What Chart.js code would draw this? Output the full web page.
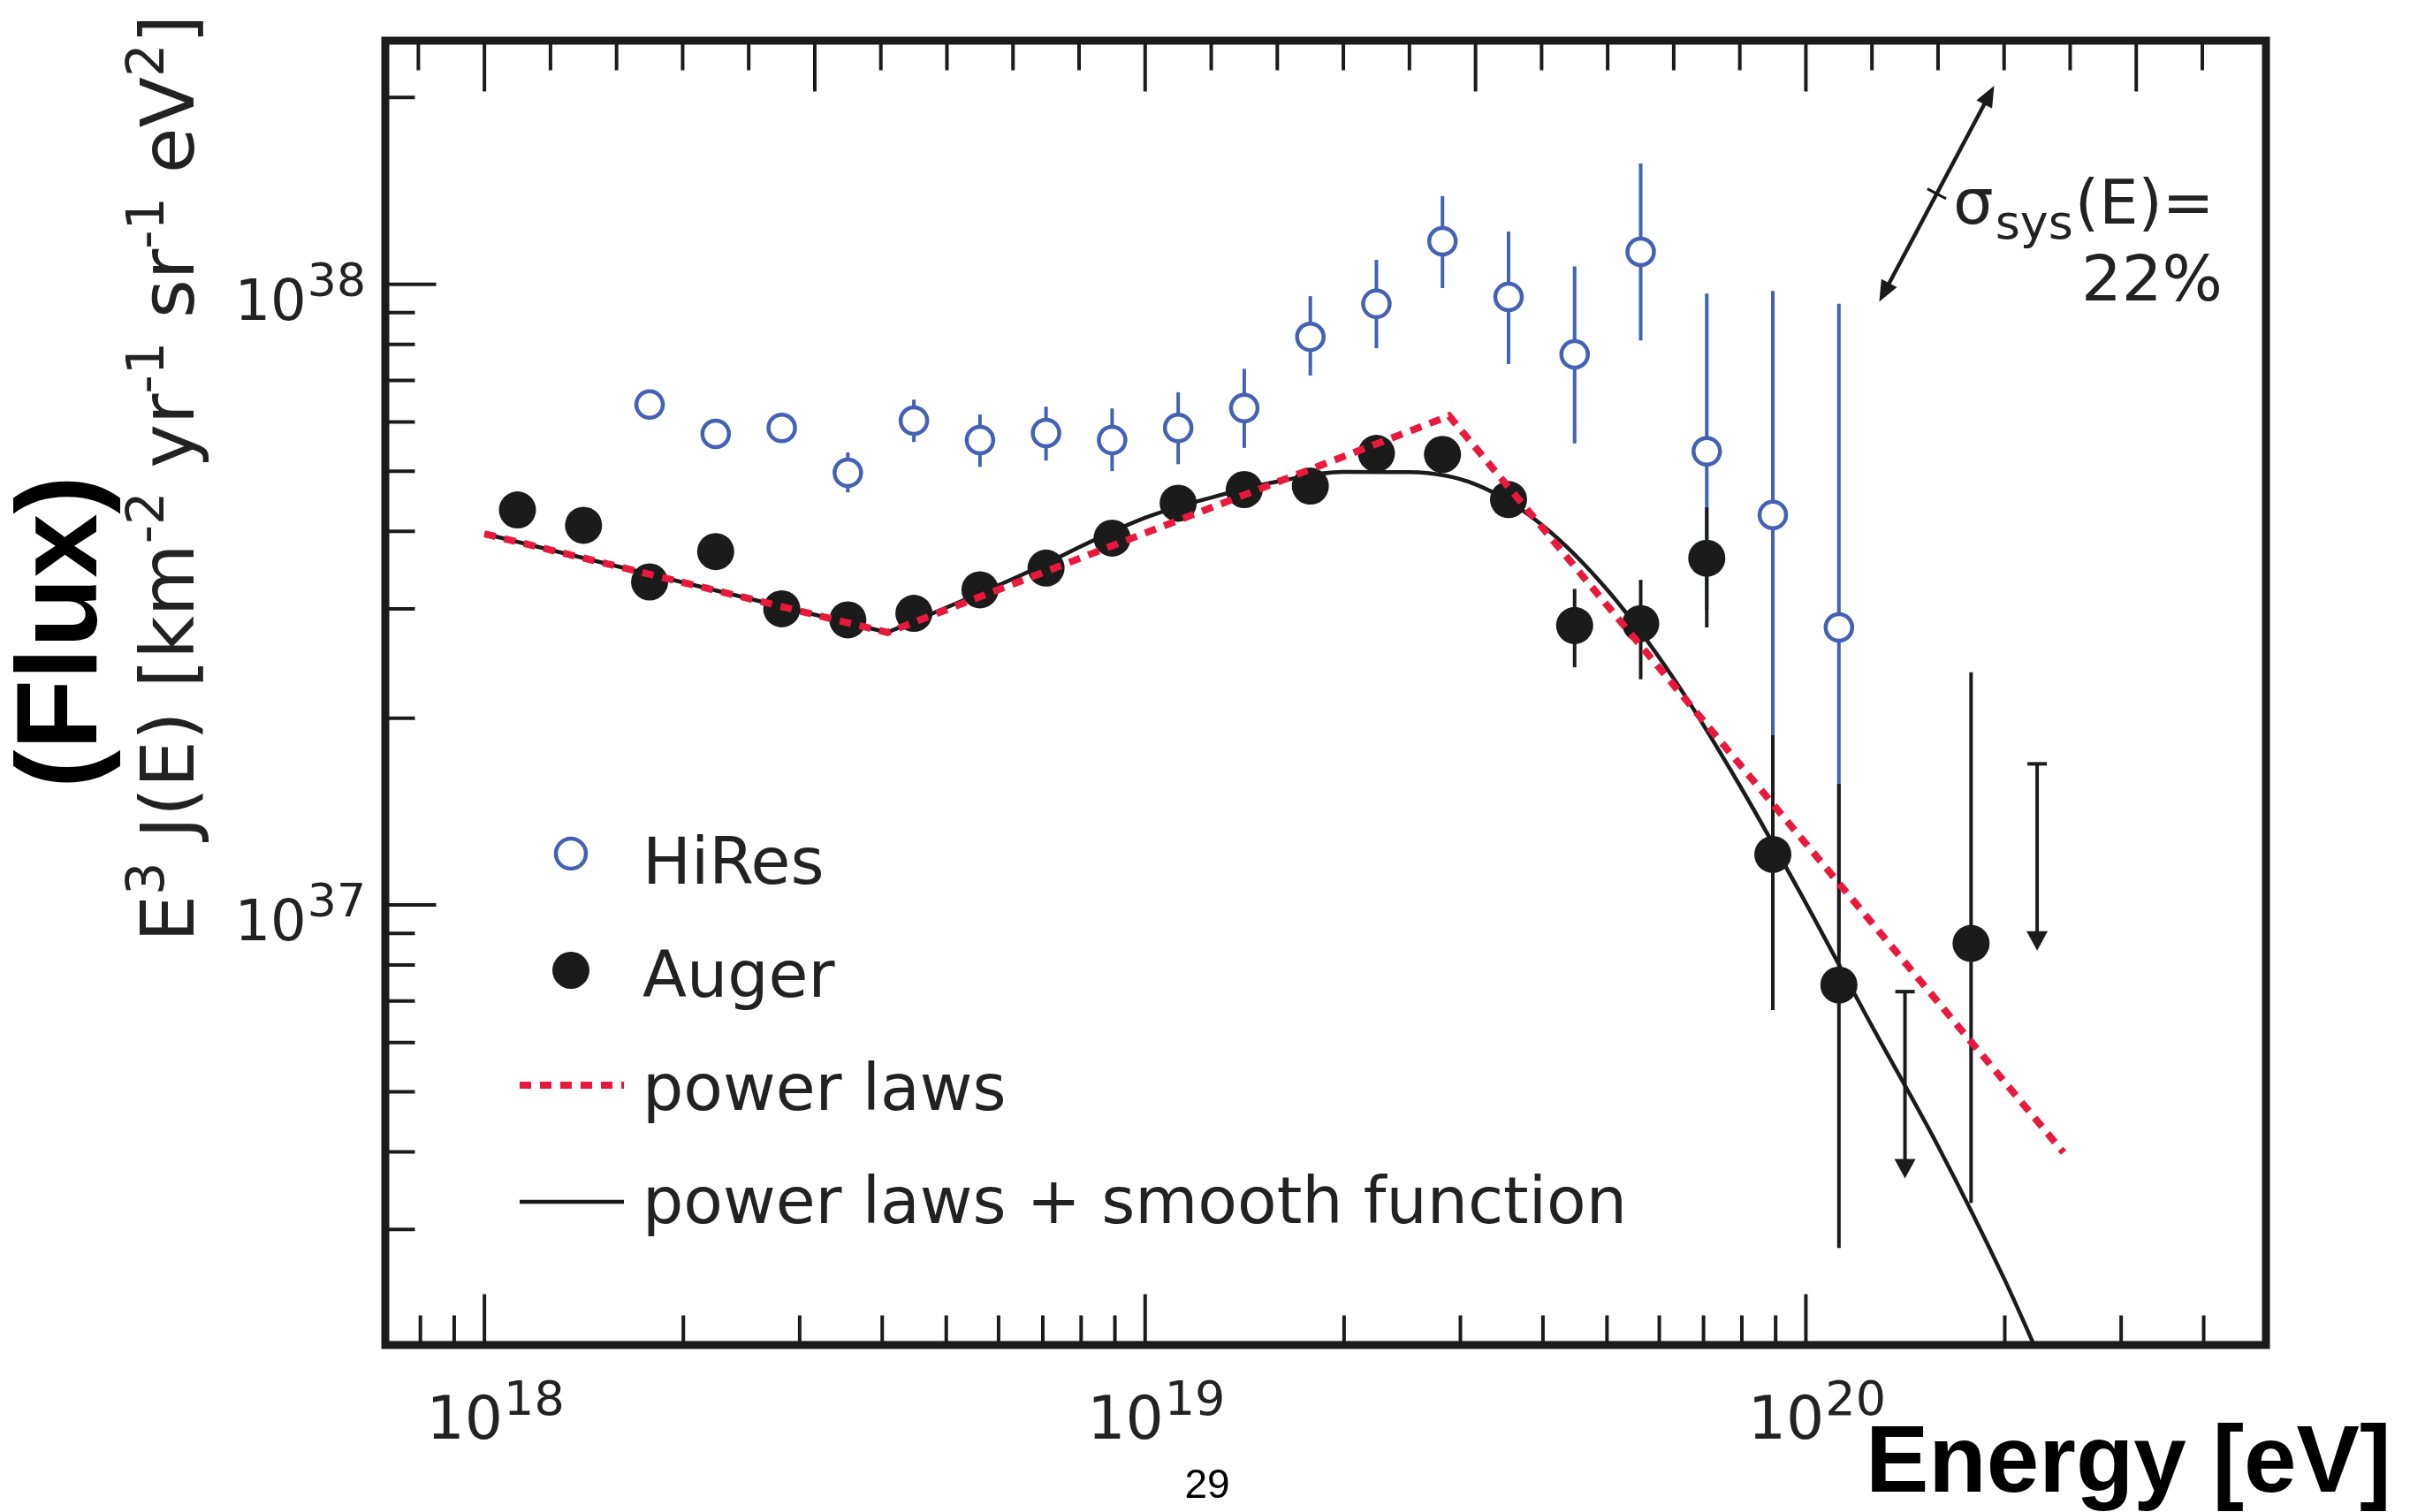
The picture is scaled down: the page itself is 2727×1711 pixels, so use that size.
<!DOCTYPE html>
<html>
<head>
<meta charset="utf-8">
<script src="https://cdn.jsdelivr.net/npm/chart.js@4.4.1/dist/chart.umd.min.js"></script>
<style>
  html, body { margin: 0; padding: 0; background: #ffffff; overflow: hidden; }
  canvas { display: block; }
</style>
</head>
<body>
<canvas id="spectrum" width="2727" height="1711"></canvas>
<script>
// ---- Auger spectrum: bin centres in lg(E/eV), E^3 J(E) in units of 1e37 km^-2 yr^-1 sr^-1 eV^2
const augerLgE  = [18.05, 18.15, 18.25, 18.35, 18.45, 18.55, 18.65, 18.75, 18.85, 18.95,
                   19.05, 19.15, 19.25, 19.35, 19.45, 19.55, 19.65, 19.75, 19.85, 19.95,
                   20.05, 20.25];
const augerFlux = [4.33, 4.09, 3.315, 3.71, 3.00, 2.88, 2.95, 3.22, 3.49, 3.90,
                   4.44, 4.67, 4.73, 5.34, 5.32, 4.50, 2.82, 2.84, 3.62, 1.206,
                   0.743, 0.867];
const augerLow  = [4.22, 3.99, 3.24, 3.63, 2.93, 2.81, 2.88, 3.14, 3.40, 3.80,
                   4.31, 4.52, 4.55, 5.13, 5.10, 4.29, 2.415, 2.31, 2.80, 0.677,
                   0.280, 0.331];
const augerHigh = [4.44, 4.19, 3.39, 3.79, 3.07, 2.95, 3.02, 3.30, 3.58, 4.00,
                   4.57, 4.82, 4.91, 5.55, 5.54, 4.72, 3.23, 3.34, 4.37, 1.877,
                   1.567, 2.37];
// Auger upper limits
const limitLgE  = [20.15, 20.35];
const limitFlux = [0.725, 1.688];

// ---- HiRes spectrum
const hiresLgE  = [18.25, 18.35, 18.45, 18.55, 18.65, 18.75, 18.85, 18.95, 19.05, 19.15,
                   19.25, 19.35, 19.45, 19.55, 19.65, 19.75, 19.85, 19.95, 20.05];
const hiresFlux = [6.40, 5.74, 5.87, 4.97, 6.03, 5.61, 5.76, 5.61, 5.87, 6.32,
                   8.23, 9.30, 11.73, 9.54, 7.71, 11.28, 5.38, 4.25, 2.80];
const hiresLow  = [6.22, 5.58, 5.70, 4.62, 5.57, 5.08, 5.20, 5.00, 5.13, 5.45,
                   7.13, 7.89, 9.86, 7.44, 5.54, 8.12, 2.99, 1.846, 0.843];
const hiresHigh = [6.58, 5.90, 6.04, 5.36, 6.52, 6.17, 6.35, 6.31, 6.70, 7.31,
                   9.57, 10.95, 13.87, 12.16, 10.69, 15.66, 9.66, 9.76, 9.30];

// ---- Fits
const powerLawLgE  = [18.0, 18.61, 19.46, 20.39];
const powerLawFlux = [3.963, 2.748, 6.138, 0.399];
const smoothLowLgE  = [18.0, 18.61];
const smoothLowFlux = [3.963, 2.748];
const smoothLgE  = [18.61, 18.8, 19.0, 19.1, 19.2, 19.3, 19.4, 19.5, 19.6, 19.7,
                    19.8, 19.9, 20.0, 20.1, 20.2, 20.3, 20.35];
const smoothFlux = [2.748, 3.354, 4.205, 4.533, 4.809, 4.986, 4.98, 4.76, 4.10, 3.213,
                    2.315, 1.557, 1.0065, 0.638, 0.4087, 0.250, 0.1905];

// systematic energy-scale arrow (lg E, flux) at both ends
const sysArrowLgE  = [20.285, 20.111];
const sysArrowFlux = [20.9, 9.37];

// ---- Tick labels (decade exponents)
const xTickExp = ['18', '19', '20'];
const yTickExp = ['37', '38'];

const UNIT = 1e37;
const toPoints = (lg, f) => lg.map((v, i) => ({ x: Math.pow(10, v), y: f[i] * UNIT }));

const INK = '#1b1b1b';
const BLUE = '#4462b4';
const RED = '#e8193c';
const SANS = '"DejaVu Sans", sans-serif';
const BOLD = '"Liberation Sans", Arial, sans-serif';

function line(ctx, x1, y1, x2, y2) {
  ctx.beginPath(); ctx.moveTo(x1, y1); ctx.lineTo(x2, y2); ctx.stroke();
}

const decorations = {
  id: 'decorations',
  beforeDatasetsDraw(chart) {
    const { ctx, scales: { x, y } } = chart;
    ctx.save();
    ctx.lineCap = 'butt';
    ctx.lineWidth = 4;
    // HiRes error bars
    ctx.strokeStyle = BLUE;
    hiresLgE.forEach((lg, i) => {
      const px = x.getPixelForValue(Math.pow(10, lg));
      line(ctx, px, y.getPixelForValue(hiresLow[i] * UNIT), px, y.getPixelForValue(hiresHigh[i] * UNIT));
    });
    // Auger error bars
    ctx.strokeStyle = INK;
    augerLgE.forEach((lg, i) => {
      const px = x.getPixelForValue(Math.pow(10, lg));
      line(ctx, px, y.getPixelForValue(augerLow[i] * UNIT), px, y.getPixelForValue(augerHigh[i] * UNIT));
    });
    // Auger upper limits: bar with cap, arrow down to half the value
    ctx.fillStyle = INK;
    limitLgE.forEach((lg, i) => {
      const px = x.getPixelForValue(Math.pow(10, lg));
      const top = y.getPixelForValue(limitFlux[i] * UNIT);
      const tip = y.getPixelForValue(limitFlux[i] * UNIT / 2);
      line(ctx, px, top, px, tip - 18);
      line(ctx, px - 11, top, px + 11, top);
      ctx.beginPath();
      ctx.moveTo(px - 12, tip - 22); ctx.lineTo(px + 12, tip - 22); ctx.lineTo(px, tip);
      ctx.closePath(); ctx.fill();
    });
    ctx.restore();
  },
  afterDraw(chart) {
    const { ctx, chartArea: a, scales: { x, y } } = chart;
    ctx.save();
    const FW = 9;
    const minor = 29 + FW / 2, major = 53 + FW / 2;
    ctx.strokeStyle = INK;
    ctx.lineWidth = 4;
    ctx.lineCap = 'butt';
    // bottom axis: log ticks
    for (let e = 17; e <= 20; e++) {
      for (let m = 1; m <= 9; m++) {
        const v = m * Math.pow(10, e);
        if (v <= x.min || v >= x.max) continue;
        const px = x.getPixelForValue(v);
        line(ctx, px, a.bottom, px, a.bottom - (m === 1 ? major : minor));
      }
    }
    // top axis: every 0.1 in lg E, longer every 0.5
    for (let k = 179; k <= 206; k++) {
      const px = x.getPixelForValue(Math.pow(10, k / 10));
      line(ctx, px, a.top, px, a.top + (k % 5 === 0 ? major : minor));
    }
    // left axis: log ticks
    for (let e = 36; e <= 38; e++) {
      for (let m = 1; m <= 9; m++) {
        const v = m * Math.pow(10, e);
        if (v <= y.min || v >= y.max) continue;
        const py = y.getPixelForValue(v);
        if (py > a.bottom - 10) continue;
        line(ctx, a.left, py, a.left + (m === 1 ? major : minor), py);
      }
    }
    // frame
    ctx.lineWidth = FW;
    ctx.lineJoin = 'miter';
    ctx.strokeRect(a.left, a.top, a.right - a.left, a.bottom - a.top);

    // tick labels 10^n
    ctx.fillStyle = '#222222';
    ctx.textBaseline = 'alphabetic';
    ctx.textAlign = 'left';
    xTickExp.forEach(ex => {
      const px = x.getPixelForValue(Math.pow(10, +ex));
      ctx.font = `68px ${SANS}`;
      const w1 = ctx.measureText('10').width;
      ctx.font = `54px ${SANS}`;
      const w2 = ctx.measureText(ex).width;
      const start = px + 12 - (w1 + w2) / 2;
      ctx.font = `68px ${SANS}`;
      ctx.fillText('10', start, 1628);
      ctx.font = `54px ${SANS}`;
      ctx.fillText(ex, start + w1 + 1, 1601);
    });
    yTickExp.forEach(ex => {
      const py = y.getPixelForValue(Math.pow(10, +ex));
      ctx.font = `64px ${SANS}`;
      const w1 = ctx.measureText('10').width;
      ctx.font = `52px ${SANS}`;
      const w2 = ctx.measureText(ex).width;
      const start = 413 - (w1 + w2);
      ctx.font = `64px ${SANS}`;
      ctx.fillText('10', start, py + 40);
      ctx.font = `52px ${SANS}`;
      ctx.fillText(ex, start + w1 + 1, py + 13);
    });

    // y-axis title with superscripts
    const parts = [['E', 0], ['3', 1], [' J(E) [km', 0], ['-2', 1], [' yr', 0], ['-1', 1],
                   [' sr', 0], ['-1', 1], [' eV', 0], ['2', 1], [']', 0]];
    ctx.save();
    ctx.translate(219, 1066);
    ctx.rotate(-Math.PI / 2);
    let cx = 0;
    parts.forEach(([t, sup]) => {
      ctx.font = sup ? `59px ${SANS}` : `84px ${SANS}`;
      ctx.fillText(t, cx, sup ? -34 : 0);
      cx += ctx.measureText(t).width;
    });
    ctx.restore();

    // big bold labels
    ctx.fillStyle = '#000000';
    ctx.save();
    ctx.translate(109, 715);
    ctx.rotate(-Math.PI / 2);
    ctx.font = `bold 130px ${BOLD}`;
    ctx.textAlign = 'center';
    ctx.fillText('(Flux)', 0, 0);
    ctx.restore();
    ctx.font = `bold 107px ${BOLD}`;
    ctx.textAlign = 'left';
    ctx.fillText('Energy [eV]', 2111, 1688);
    ctx.font = `46px ${BOLD}`;
    ctx.textAlign = 'center';
    ctx.fillText('29', 1366, 1695);

    // legend
    ctx.textAlign = 'left';
    ctx.fillStyle = '#222222';
    ctx.font = `73px ${SANS}`;
    ctx.fillText('HiRes', 727, 1000);
    ctx.fillText('Auger', 727, 1128);
    ctx.fillText('power laws', 727, 1256);
    ctx.fillText('power laws + smooth function', 727, 1384);
    ctx.lineWidth = 4.5;
    ctx.strokeStyle = BLUE;
    ctx.fillStyle = '#ffffff';
    ctx.beginPath(); ctx.arc(646, 966, 17, 0, Math.PI * 2); ctx.fill(); ctx.stroke();
    ctx.fillStyle = INK;
    ctx.beginPath(); ctx.arc(646, 1098, 21, 0, Math.PI * 2); ctx.fill();
    ctx.strokeStyle = RED;
    ctx.lineWidth = 8;
    ctx.setLineDash([13, 10]);
    line(ctx, 588, 1228, 706, 1228);
    ctx.setLineDash([]);
    ctx.strokeStyle = INK;
    ctx.lineWidth = 4.5;
    line(ctx, 588, 1360, 706, 1360);

    // systematic uncertainty arrow
    const ax1 = x.getPixelForValue(Math.pow(10, sysArrowLgE[0]));
    const ay1 = y.getPixelForValue(sysArrowFlux[0] * UNIT);
    const ax2 = x.getPixelForValue(Math.pow(10, sysArrowLgE[1]));
    const ay2 = y.getPixelForValue(sysArrowFlux[1] * UNIT);
    const len = Math.hypot(ax1 - ax2, ay1 - ay2);
    const ux = (ax1 - ax2) / len, uy = (ay1 - ay2) / len;
    const nx = -uy, ny = ux;
    ctx.strokeStyle = INK; ctx.fillStyle = INK; ctx.lineWidth = 4.5;
    line(ctx, ax2 + ux * 18, ay2 + uy * 18, ax1 - ux * 18, ay1 - uy * 18);
    [[ax1, ay1, 1], [ax2, ay2, -1]].forEach(([tx, ty, s]) => {
      ctx.beginPath();
      ctx.moveTo(tx, ty);
      ctx.lineTo(tx - s * ux * 24 + nx * 10, ty - s * uy * 24 + ny * 10);
      ctx.lineTo(tx - s * ux * 24 - nx * 10, ty - s * uy * 24 - ny * 10);
      ctx.closePath(); ctx.fill();
    });
    const mx = (ax1 + ax2) / 2, my = (ay1 + ay2) / 2;
    ctx.lineWidth = 3;
    line(ctx, mx - nx * 12, my - ny * 12, mx + nx * 12, my + ny * 12);

    ctx.fillStyle = '#222222';
    ctx.textAlign = 'left';
    let sx = 2210;
    ctx.font = `72px ${SANS}`;
    ctx.fillText('\u03C3', sx, 253); sx += ctx.measureText('\u03C3').width + 2;
    ctx.font = `54px ${SANS}`;
    ctx.fillText('sys', sx, 270); sx += ctx.measureText('sys').width + 2;
    ctx.font = `70px ${SANS}`;
    ctx.fillText('(E)=', sx, 253);
    ctx.textAlign = 'right';
    ctx.font = `72px ${SANS}`;
    ctx.fillText('22%', 2515, 340);
    ctx.restore();
  }
};

new Chart(document.getElementById('spectrum'), {
  type: 'scatter',
  data: {
    datasets: [
      {
        label: 'power laws',
        data: toPoints(powerLawLgE, powerLawFlux),
        showLine: true, pointRadius: 0, borderColor: RED, borderWidth: 8,
        borderDash: [13, 10], borderCapStyle: 'butt', fill: false, order: 0
      },
      {
        label: 'power laws + smooth function',
        data: toPoints(smoothLowLgE, smoothLowFlux),
        showLine: true, pointRadius: 0, borderColor: INK, borderWidth: 4.5, fill: false, order: 1
      },
      {
        label: 'power laws + smooth function (cutoff)',
        data: toPoints(smoothLgE, smoothFlux),
        showLine: true, pointRadius: 0, borderColor: INK, borderWidth: 4.5, fill: false,
        cubicInterpolationMode: 'monotone', order: 1
      },
      {
        label: 'Auger',
        data: toPoints(augerLgE, augerFlux),
        pointRadius: 21, pointBackgroundColor: INK, pointBorderWidth: 0, order: 2
      },
      {
        label: 'HiRes',
        data: toPoints(hiresLgE, hiresFlux),
        pointRadius: 15, pointBackgroundColor: '#ffffff', pointBorderColor: BLUE,
        pointBorderWidth: 4.5, order: 3
      }
    ]
  },
  options: {
    responsive: false,
    animation: false,
    devicePixelRatio: 1,
    layout: { padding: { left: 436, top: 46, right: 163, bottom: 189 } },
    plugins: { legend: { display: false }, tooltip: { enabled: false } },
    scales: {
      x: { type: 'logarithmic', min: Math.pow(10, 17.85), max: Math.pow(10, 20.6963), display: false },
      y: { type: 'logarithmic', min: Math.pow(10, 36.291), max: Math.pow(10, 38.3926), display: false }
    }
  },
  plugins: [decorations]
});
</script>
</body>
</html>
